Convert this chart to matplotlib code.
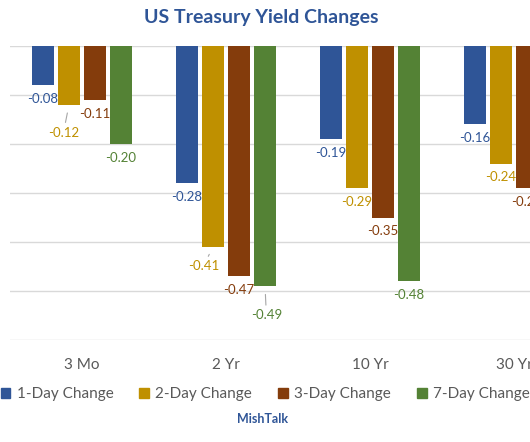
import matplotlib
matplotlib.use('Agg')
import matplotlib.pyplot as plt
from matplotlib.patches import Patch
import numpy as np

plt.rcParams['font.family'] = ['Lato', 'DejaVu Sans']

categories = ['3 Mo', '2 Yr', '10 Yr', '30 Yr']
series = ['1-Day Change', '2-Day Change', '3-Day Change', '7-Day Change']
one_day = [-0.08, -0.28, -0.19, -0.16]
two_day = [-0.12, -0.41, -0.29, -0.24]
three_day = [-0.11, -0.47, -0.35, -0.29]
seven_day = [-0.20, -0.49, -0.48, -0.44]
values = [one_day, two_day, three_day, seven_day]
colors = ['#2F5597', '#BF9000', '#843C0C', '#548235']

# labels that were dragged away from the bar in the original (offset in points)
moved = {(1, 0): (-4, -20), (1, 1): (-7, -14), (3, 1): (1, -21)}

fig = plt.figure(figsize=(5.3, 4.42), dpi=100)
ax = fig.add_axes([10 / 530, 1 - 340 / 442, 576 / 530, 294 / 442])

x = np.arange(len(categories))
step = 0.1806
width = 0.146
for i, vals in enumerate(values):
    xs = x + (i - 1.5) * step
    ax.bar(xs, vals, width, color=colors[i], zorder=2)
    for j, v in enumerate(vals):
        dx, dy = moved.get((i, j), (0, -10))
        if (i, j) in moved:
            ax.annotate('%.2f' % v, (xs[j], v), xytext=(dx, dy), textcoords='offset points',
                        ha='center', va='center', color=colors[i], fontsize=9.5,
                        arrowprops=dict(arrowstyle='-', color='#A6A6A6', lw=0.8,
                                        shrinkA=1, shrinkB=6))
        else:
            ax.annotate('%.2f' % v, (xs[j], v), xytext=(dx, dy), textcoords='offset points',
                        ha='center', va='center', color=colors[i], fontsize=9.5)

ax.set_xlim(-0.5, 3.5)
ax.set_ylim(-0.6, 0)
ax.set_yticks(np.arange(-0.6, 0.01, 0.1))
ax.set_yticklabels([])
ax.tick_params(axis='y', length=0)
ax.yaxis.grid(True, color='#D9D9D9', lw=1, zorder=0)
ax.set_xticks(x)
ax.set_xticklabels([])
ax.tick_params(axis='x', length=0)
for s in ax.spines.values():
    s.set_visible(False)

for j, c in enumerate(categories):
    ax.annotate(c, (x[j], -0.6), xytext=(0, -18), textcoords='offset points',
                ha='center', va='center', fontsize=11, color='#595959')

fig.text(261 / 530, 1 - 18 / 442, 'US Treasury Yield Changes', ha='center', va='center',
         fontsize=14, fontweight='bold', color='#2F5597')

handles = [Patch(color=colors[i], label=series[i]) for i in range(4)]
fig.legend(handles=handles, loc='center left', bbox_to_anchor=(-0.025, 1 - 394 / 442),
           ncol=4, frameon=False, fontsize=11, handlelength=0.65, handleheight=0.65,
           handletextpad=0.4, columnspacing=1.7, labelcolor='#595959')

fig.text(263 / 530, 1 - 419 / 442, 'MishTalk', ha='center', va='center',
         fontsize=9, fontweight='bold', color='#2F5597')

fig.savefig('out.png', dpi=100)
